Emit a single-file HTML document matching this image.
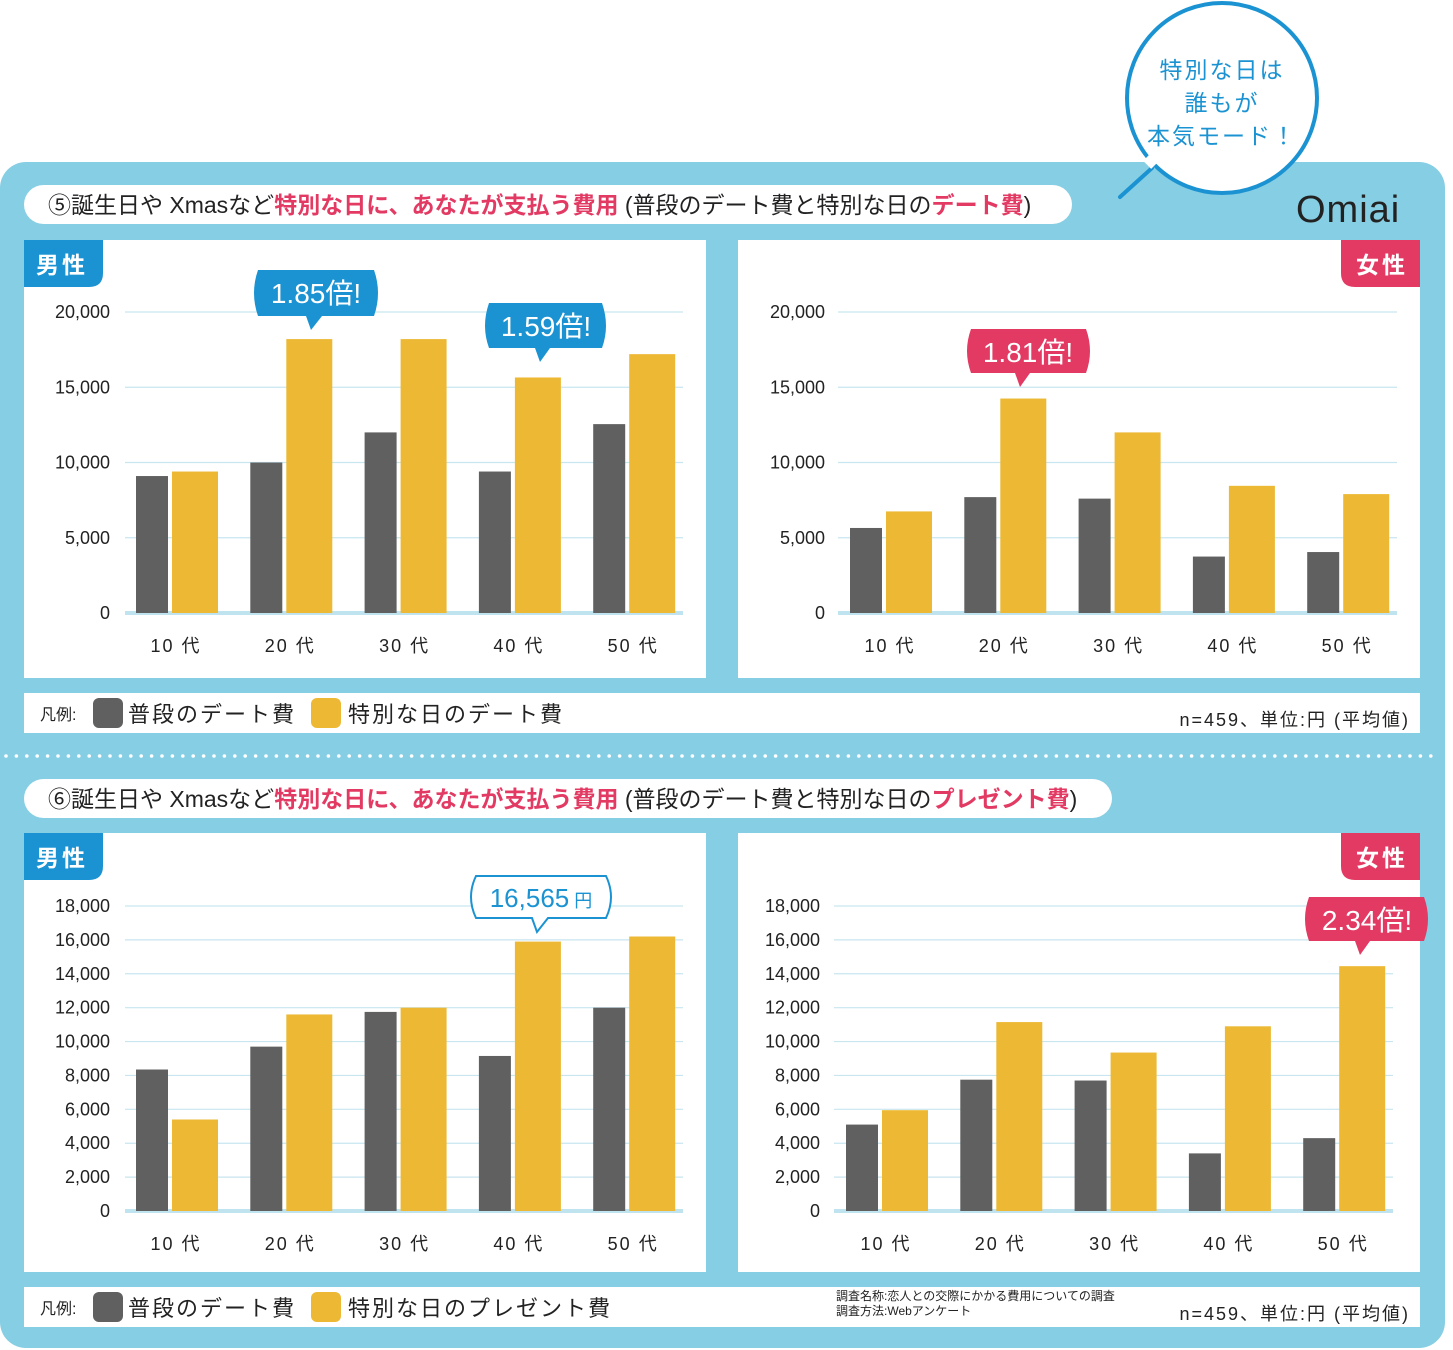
<!DOCTYPE html>
<html><head><meta charset="utf-8">
<style>
html,body{margin:0;padding:0;background:#fff;}
svg{display:block;font-family:"Liberation Sans","Noto Sans CJK JP",sans-serif;}
</style></head>
<body>
<svg id="root" width="1453" height="1350" viewBox="0 0 1453 1350" xmlns="http://www.w3.org/2000/svg">
  <rect x="0" y="162" width="1445" height="1186" rx="26" fill="#86cee3"/>
  <g id="dots"></g>

  <!-- big speech circle -->
  <g>
    <path d="M1120,197 L1152,168" stroke="#1b93d2" stroke-width="4" stroke-linecap="round" fill="none"/>
    <circle cx="1222" cy="98" r="95" fill="#fff" stroke="#1b93d2" stroke-width="4"/>
    <path d="M1146,158 L1154,166" stroke="#fff" stroke-width="8"/>
    <text x="1222" y="78" font-size="23" fill="#1b93d2" text-anchor="middle" letter-spacing="2">特別な日は</text>
    <text x="1222" y="111" font-size="23" fill="#1b93d2" text-anchor="middle" letter-spacing="2">誰もが</text>
    <text x="1222" y="144" font-size="23" fill="#1b93d2" text-anchor="middle" letter-spacing="2">本気モード！</text>
  </g>
  <text x="1296" y="222" font-size="38" fill="#222" letter-spacing="1">Omiai</text>

  <!-- title 1 -->
  <rect x="24" y="185" width="1048" height="39" rx="19.5" fill="#fff"/>
  <text x="48" y="213" font-size="23" fill="#222">⑤誕生日や Xmasなど<tspan fill="#e23a63" font-weight="bold">特別な日に、あなたが支払う費用</tspan> (普段のデート費と特別な日の<tspan fill="#e23a63" font-weight="bold">デート費</tspan>)</text>

  <!-- title 2 -->
  <rect x="24" y="779" width="1088" height="39" rx="19.5" fill="#fff"/>
  <text x="48" y="807" font-size="23" fill="#222">⑥誕生日や Xmasなど<tspan fill="#e23a63" font-weight="bold">特別な日に、あなたが支払う費用</tspan> (普段のデート費と特別な日の<tspan fill="#e23a63" font-weight="bold">プレゼント費</tspan>)</text>

  <!-- chart panels -->
  <rect x="24" y="240" width="682" height="438" fill="#fff"/>
  <rect x="738" y="240" width="682" height="438" fill="#fff"/>
  <rect x="24" y="833" width="682" height="439" fill="#fff"/>
  <rect x="738" y="833" width="682" height="439" fill="#fff"/>

  <!-- legends -->
  <g>
    <rect x="24" y="693" width="1396" height="40" fill="#fff"/>
    <text x="40" y="720" font-size="16" fill="#222">凡例:</text>
    <rect x="93" y="698" width="30" height="30" rx="6" fill="#606060"/>
    <text x="128" y="722" font-size="22" fill="#222" letter-spacing="2">普段のデート費</text>
    <rect x="311" y="698" width="30" height="30" rx="6" fill="#edb935"/>
    <text x="348" y="722" font-size="22" fill="#222" letter-spacing="2">特別な日のデート費</text>
    <text x="1410" y="726" font-size="18" fill="#222" text-anchor="end" letter-spacing="2">n=459、単位:円 (平均値)</text>
  </g>
  <g>
    <rect x="24" y="1287" width="1396" height="40" fill="#fff"/>
    <text x="40" y="1314" font-size="16" fill="#222">凡例:</text>
    <rect x="93" y="1292" width="30" height="30" rx="6" fill="#606060"/>
    <text x="128" y="1316" font-size="22" fill="#222" letter-spacing="2">普段のデート費</text>
    <rect x="311" y="1292" width="30" height="30" rx="6" fill="#edb935"/>
    <text x="348" y="1316" font-size="22" fill="#222" letter-spacing="2">特別な日のプレゼント費</text>
    <text x="836" y="1300" font-size="12" fill="#222">調査名称:恋人との交際にかかる費用についての調査</text>
    <text x="836" y="1315" font-size="12" fill="#222">調査方法:Webアンケート</text>
    <text x="1410" y="1320" font-size="18" fill="#222" text-anchor="end" letter-spacing="2">n=459、単位:円 (平均値)</text>
  </g>

  <g id="charts"></g>

  <!-- badges -->
  <path d="M24,240 H103 V273 Q103,287 89,287 H24 Z" fill="#1b93d2"/>
  <text x="36" y="273" font-size="23" fill="#fff" font-weight="bold" letter-spacing="3">男性</text>
  <path d="M1341,240 H1420 V287 H1355 Q1341,287 1341,273 Z" fill="#e23a63"/>
  <text x="1356" y="273" font-size="23" fill="#fff" font-weight="bold" letter-spacing="3">女性</text>
  <path d="M24,833 H103 V866 Q103,880 89,880 H24 Z" fill="#1b93d2"/>
  <text x="36" y="866" font-size="23" fill="#fff" font-weight="bold" letter-spacing="3">男性</text>
  <path d="M1341,833 H1420 V880 H1355 Q1341,880 1341,866 Z" fill="#e23a63"/>
  <text x="1356" y="866" font-size="23" fill="#fff" font-weight="bold" letter-spacing="3">女性</text>

  <!-- callouts -->
  <g>
    <path d="M258,270 H374 Q382,293 374,316 H322 L311,330 L306,316 H258 Q250,293 258,270 Z" fill="#1b93d2"/>
    <text x="316" y="303" font-size="28" fill="#fff" text-anchor="middle">1.85倍!</text>
  </g>
  <g>
    <path d="M489,303 H602 Q610,326 602,348 H550 L540,362 L535,348 H489 Q481,326 489,303 Z" fill="#1b93d2"/>
    <text x="546" y="336" font-size="28" fill="#fff" text-anchor="middle">1.59倍!</text>
  </g>
  <g>
    <path d="M971,329 H1086 Q1094,351 1086,373 H1030 L1020,387 L1015,373 H971 Q963,351 971,329 Z" fill="#e23a63"/>
    <text x="1028" y="362" font-size="28" fill="#fff" text-anchor="middle">1.81倍!</text>
  </g>
  <g>
    <path d="M476,876 H606 Q616,897 606,918 H548 L537,932 L532,918 H476 Q466,897 476,876 Z" fill="#fff" stroke="#1b93d2" stroke-width="2"/>
    <text x="541" y="907" font-size="26" fill="#1b93d2" text-anchor="middle">16,565<tspan font-size="18"> 円</tspan></text>
  </g>
  <g>
    <path d="M1309,897 H1424 Q1432,919 1424,941 H1370 L1360,955 L1355,941 H1309 Q1301,919 1309,897 Z" fill="#e23a63"/>
    <text x="1367" y="930" font-size="28" fill="#fff" text-anchor="middle">2.34倍!</text>
  </g>
</svg>
<script>
const categories = ["10代","20代","30代","40代","50代"];
const dateMaleUsual = [9100, 10000, 12000, 9400, 12550];
const dateMaleSpecial = [9400, 18200, 18200, 15650, 17200];
const dateFemaleUsual = [5650, 7700, 7600, 3750, 4050];
const dateFemaleSpecial = [6750, 14250, 12000, 8450, 7900];
const presentMaleUsual = [8350, 9700, 11750, 9150, 12000];
const presentMaleSpecial = [5400, 11600, 12000, 15900, 16200];
const presentFemaleUsual = [5100, 7750, 7700, 3400, 4300];
const presentFemaleSpecial = [5950, 11150, 9350, 10900, 14450];
const ticksDate = [0, 5000, 10000, 15000, 20000];
const ticksPresent = [0, 2000, 4000, 6000, 8000, 10000, 12000, 14000, 16000, 18000];

const NS = "http://www.w3.org/2000/svg";
const chartsG = document.getElementById("charts");
function mk(tag, attrs, parent){
  const e = document.createElementNS(NS, tag);
  for (const k in attrs) e.setAttribute(k, attrs[k]);
  parent.appendChild(e);
  return e;
}
function drawChart(cfg, usual, special, ticks){
  const g = mk("g", {}, chartsG);
  
  
  const yScale = v => cfg.y0 - (v / cfg.max) * (cfg.y0 - cfg.yTop);
  ticks.forEach(t => {
    const y = yScale(t);
    const ln = mk("line", {x1: cfg.gx0, x2: cfg.gx1, y1: y, y2: y, stroke: t === 0 ? "#bfe4f0" : "#c8e6f0", "stroke-width": t === 0 ? 4 : 1.2}, g);
    
    
    const tx = mk("text", {x: cfg.tickX, y: y + 6, "font-size": 18, fill: "#222", "text-anchor": "end"}, g);
    tx.textContent = t.toLocaleString("en-US");
    
    
  });
  categories.forEach((c, i) => {
    const cx = cfg.c0 + i * cfg.step;
    const b1 = mk("rect", {x: cx - 40, y: yScale(usual[i]), width: 32, height: cfg.y0 - yScale(usual[i]), fill: "#606060"}, g);
    
    
    const b2 = mk("rect", {x: cx - 4, y: yScale(special[i]), width: 46, height: cfg.y0 - yScale(special[i]), fill: "#edb935"}, g);
    
    
    const lb = mk("text", {x: cx, y: cfg.y0 + 39, "font-size": 18, fill: "#222", "text-anchor": "middle", "letter-spacing": 2}, g);
    lb.textContent = c.replace("代", " 代");
    
    
  });
}
drawChart({name:"chart-date-male", y0:613, yTop:312, max:20000, gx0:125, gx1:683, tickX:110, c0:176, step:114.3}, dateMaleUsual, dateMaleSpecial, ticksDate);
drawChart({name:"chart-date-female", y0:613, yTop:312, max:20000, gx0:838, gx1:1397, tickX:825, c0:890, step:114.3}, dateFemaleUsual, dateFemaleSpecial, ticksDate);
drawChart({name:"chart-present-male", y0:1211, yTop:906, max:18000, gx0:125, gx1:683, tickX:110, c0:176, step:114.3}, presentMaleUsual, presentMaleSpecial, ticksPresent);
drawChart({name:"chart-present-female", y0:1211, yTop:906, max:18000, gx0:834, gx1:1393, tickX:820, c0:886, step:114.3}, presentFemaleUsual, presentFemaleSpecial, ticksPresent);

const dots = document.getElementById("dots");
for (let x = 6; x < 1440; x += 10.4) {
  const d = mk("circle", {cx: x, cy: 756, r: 1.8, fill: "#fff"}, dots);
  
  
}
</script>
</body></html>
